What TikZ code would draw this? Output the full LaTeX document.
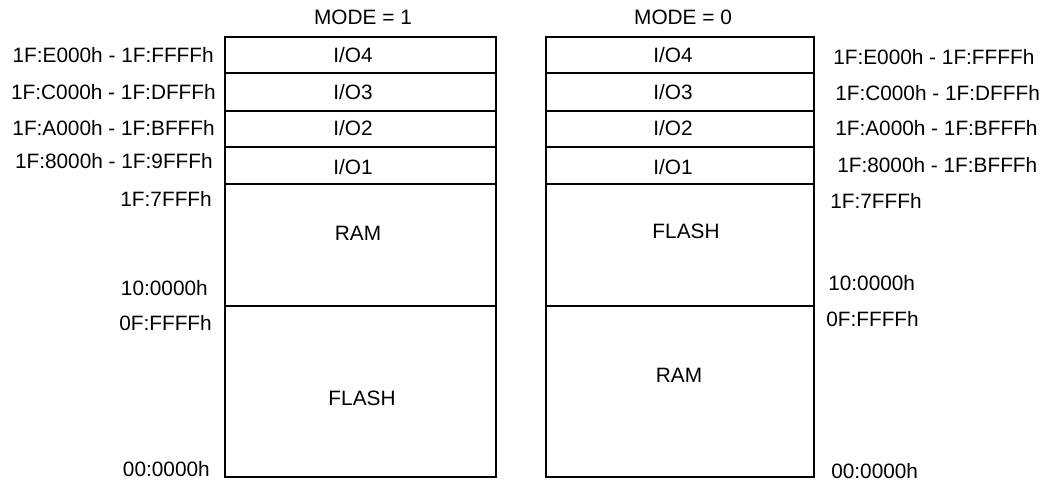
\documentclass[tikz,border=0pt]{standalone}
\usepackage{fontspec}
\setmainfont{Liberation Sans}
\usepackage{tikz}

\tikzset{
  addrl/.style={anchor=east, inner sep=0pt, font=\fontsize{15.6}{18}\selectfont},
  addrr/.style={anchor=west, inner sep=0pt, font=\fontsize{15.6}{18}\selectfont},
  region/.style={inner sep=0pt, font=\fontsize{15.6}{18}\selectfont},
  memline/.style={line width=1pt}
}

\begin{document}
\begin{tikzpicture}[x=0.75pt,y=0.75pt,yscale=-1,xscale=1]
\useasboundingbox (0,0) rectangle (1048,482);

%Mode = 1 map
\draw [memline] (225,37) rectangle (496,477);
\draw [memline] (225,73) -- (496,73);
\draw [memline] (225,111) -- (496,111);
\draw [memline] (225,147) -- (496,147);
\draw [memline] (225,184) -- (496,184);
\draw [memline] (225,306) -- (496,306);

%Mode = 0 map
\draw [memline] (546,37) rectangle (814,477);
\draw [memline] (546,73) -- (814,73);
\draw [memline] (546,111) -- (814,111);
\draw [memline] (546,147) -- (814,147);
\draw [memline] (546,184) -- (814,184);
\draw [memline] (546,306) -- (814,306);

% Titles
\node [region] (modeA) at (363,17) {MODE = 1};
\node [region] (modeB) at (683,17) {MODE = 0};

% Regions, mode 1
\node [region] (ioDa) at (353,55) {I/O4};
\node [region] (ioCa) at (353,92) {I/O3};
\node [region] (ioBa) at (353,128) {I/O2};
\node [region] (ioAa) at (353,167) {I/O1};
\node [region] (rama) at (358,233) {RAM};
\node [region] (flasha) at (362,398) {FLASH};

% Regions, mode 0
\node [region] (ioDb) at (673,55) {I/O4};
\node [region] (ioCb) at (673,92) {I/O3};
\node [region] (ioBb) at (673,128) {I/O2};
\node [region] (ioAb) at (673,167) {I/O1};
\node [region] (flashb) at (686,231) {FLASH};
\node [region] (ramb) at (679,375) {RAM};

% Addresses, left
\node [addrl] (adrDa) at (214,55) {1F:E000h - 1F:FFFFh};
\node [addrl] (adrCa) at (216,92) {1F:C000h - 1F:DFFFh};
\node [addrl] (adrBa) at (215,128) {1F:A000h - 1F:BFFFh};
\node [addrl] (adrAa) at (213,161) {1F:8000h - 1F:9FFFh};
\node [addrl] (topa) at (212,199) {1F:7FFFh};
\node [addrl] (mida) at (208,288) {10:0000h};
\node [addrl] (lowa) at (212,323) {0F:FFFFh};
\node [addrl] (zeroa) at (210,469) {00:0000h};

% Addresses, right
\node [addrr] (adrDb) at (833,57) {1F:E000h - 1F:FFFFh};
\node [addrr] (adrCb) at (835,93) {1F:C000h - 1F:DFFFh};
\node [addrr] (adrBb) at (835,128) {1F:A000h - 1F:BFFFh};
\node [addrr] (adrAb) at (837,165) {1F:8000h - 1F:BFFFh};
\node [addrr] (topb) at (830,201) {1F:7FFFh};
\node [addrr] (midb) at (828,283) {10:0000h};
\node [addrr] (lowb) at (826,319) {0F:FFFFh};
\node [addrr] (zerob) at (831,471) {00:0000h};

\end{tikzpicture}
\end{document}
